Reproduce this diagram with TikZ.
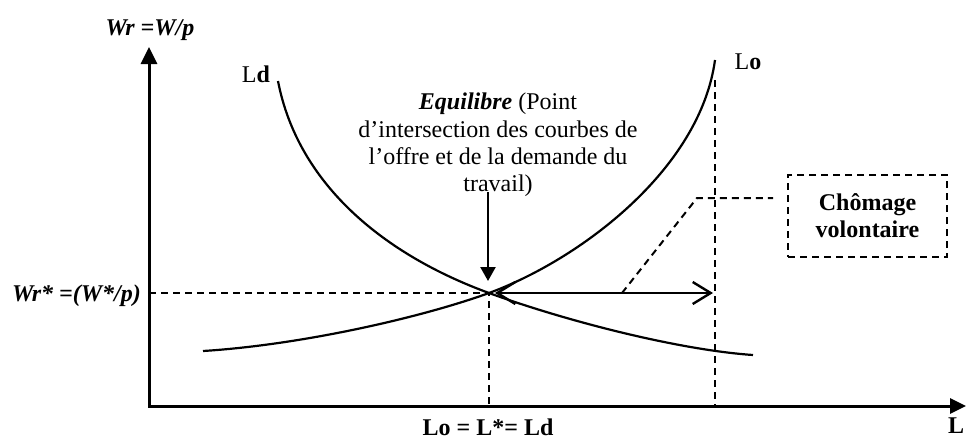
\documentclass[tikz,border=0pt]{standalone}
\usepackage{fontspec}
\setmainfont{Liberation Serif}
\usetikzlibrary{arrows.meta}
\begin{document}
\begin{tikzpicture}[x=1pt,y=-1pt,
  axis/.style={line width=3pt, {Triangle[length=17pt,width=16pt]}-{Triangle[length=16pt,width=15pt]}},
  curve/.style={line width=2.2pt},
  guide/.style={line width=2pt, dash pattern=on 7pt off 5pt},
  lbl/.style={inner sep=0pt, font=\fontsize{24}{27.3}\selectfont},
]
\useasboundingbox (0,0) rectangle (966,439);
% axes
\coordinate (Ytop) at (149,47);
\coordinate (O) at (149,406);
\coordinate (Xend) at (966,406);
\draw[axis] (Ytop) -- (O) -- (Xend);
% key points
\coordinate (E) at (489,293);
\coordinate (LdA) at (278,81);
\coordinate (LdB) at (753,355);
\coordinate (LoA) at (203,351);
\coordinate (LoB) at (715,60);
% curves
\draw[curve] (LdA) .. controls (298,185) and (385,255) .. (E)
             .. controls (569,322) and (680,350) .. (LdB);
\draw[curve] (LoA) .. controls (300,345) and (420,318) .. (E)
             .. controls (579,260) and (700,170) .. (LoB);
% guides
\coordinate (Yeq) at (149,293);
\coordinate (Xeq) at (489,406);
\draw[guide] (Yeq) -- (E) -- (Xeq);
\coordinate (LoTop) at (715,80);
\coordinate (LoBot) at (715,406);
\draw[guide] (LoTop) -- (LoBot);
% double arrow
\coordinate (H1) at (495,293);
\coordinate (H2) at (713,293);
\draw[line width=2.4pt, {Straight Barb[length=18pt,width=22pt]}-{Straight Barb[length=18pt,width=22pt]}] (H1) -- (H2);
% equilibrium arrow
\coordinate (Atop) at (488,192);
\coordinate (Abot) at (488,281);
\draw[line width=2.4pt, -{Triangle[length=14pt,width=15pt]}] (Atop) -- (Abot);
% connector to box
\coordinate (C1) at (622,293);
\coordinate (C2) at (697,198);
\coordinate (C3) at (773,198);
\draw[guide] (C1) -- (C2) -- (C3);
% box
\node[draw, guide, inner sep=0pt, minimum width=159pt, minimum height=82pt, align=center,
      font=\fontsize{24}{27}\selectfont\bfseries] (box) at (867.5,216) {Chômage\\volontaire};
% labels
\node[lbl] (ylab) at (150,30) {\textbf{\textit{Wr =W/p}}};
\node[lbl, anchor=east] (weq) at (141,296) {\textbf{\textit{Wr* =(W*/p)}}};
\node[lbl] (ld) at (256,74) {L\textbf{d}};
\node[lbl] (lo) at (748,62) {L\textbf{o}};
\node[lbl] (xeq) at (488,427) {\textbf{Lo = L*= Ld}};
\node[lbl, anchor=west] (xl) at (948,426) {\textbf{L}};
\node[lbl, align=center] (eqtxt) at (498,145) {\textbf{\textit{Equilibre}} (Point\\d’intersection des courbes de\\l’offre et de la demande du\\travail)};
\end{tikzpicture}
\end{document}
